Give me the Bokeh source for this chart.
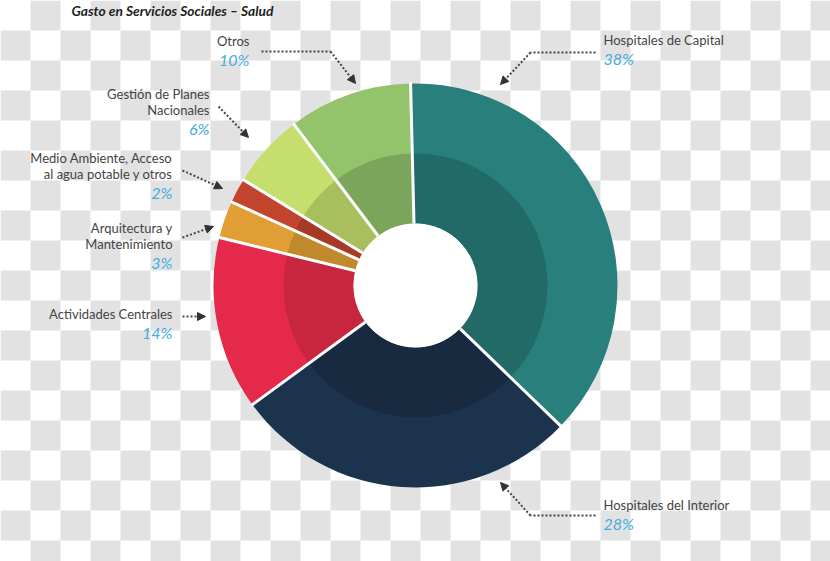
import numpy as np
from bokeh.plotting import figure
from bokeh.models import Range1d, ColumnDataSource, Arrow, NormalHead, Label
from bokeh.core.properties import value
from bokeh.embed import file_html
from bokeh.resources import INLINE

# ---------------- data ----------------
categories = ["Hospitales de Capital", "Hospitales del Interior", "Actividades Centrales",
              "Arquitectura y Mantenimiento", "Medio Ambiente, Acceso al agua potable y otros",
              "Gestión de Planes Nacionales", "Otros"]
shares = [38, 28, 14, 3, 2, 6, 10]
pct_labels = ["38%", "28%", "14%", "3%", "2%", "6%", "10%"]
label_lines = [["Hospitales de Capital"], ["Hospitales del Interior"], ["Actividades Centrales"],
               ["Arquitectura y", "Mantenimiento"], ["Medio Ambiente, Acceso", "al agua potable y otros"],
               ["Gestión de Planes", "Nacionales"], ["Otros"]]
title_text = "Gasto en Servicios Sociales – Salud"

# ---------------- styling / layout ----------------
outer_colors = ["#287f7c", "#1c334e", "#e5294a", "#e09e35", "#c2432e", "#c5de6d", "#93c36b"]
inner_colors = ["#226a68", "#172a40", "#c8263e", "#c0892c", "#a63a27", "#a9bf5d", "#7ba55a"]

W, H = 830, 561
CX, CY = 415, 285           # pixel centre of donut
R_OUT, R_MID, R_HOLE = 202, 132, 62
START_OFFSET_DEG = -1.4     # first slice begins slightly before 12 o'clock

# label layout in pixel coords (anchor x, first line y, align), and leader polyline (last point = arrow tip)
label_layout = [
    (603, 39, "left", [(595, 52), (530, 52), (500, 84)]),
    (603, 504, "left", [(595, 515), (530, 515), (500, 482)]),
    (172, 313, "right", [(182, 316), (205, 316)]),
    (172, 227, "right", [(182, 237), (213, 226)]),
    (172, 157, "right", [(182, 170), (222, 188)]),
    (209, 93, "right", [(218, 106), (248, 137)]),
    (249, 40, "right", [(261, 51), (330, 51), (355, 83)]),
]

def Y(py):
    return H - py

p = figure(width=W, height=H, output_backend="svg", toolbar_location=None,
           x_range=Range1d(0, W), y_range=Range1d(0, H), min_border=0)
p.axis.visible = False
p.grid.visible = False
p.outline_line_color = None
p.background_fill_color = "white"
p.border_fill_color = "white"

# checkerboard (transparency pattern) background
SQ = 30
xs, ys = [], []
for i in range(int(np.ceil(H / SQ))):
    for j in range(int(np.ceil(W / SQ))):
        if (i + j) % 2 == 1:
            xs.append(j * SQ + SQ / 2)
            ys.append(Y(i * SQ + SQ / 2))
p.rect(xs, ys, width=SQ, height=SQ, fill_color="#e2e2e2", line_color=None)

# donut
vals = np.array(shares, dtype=float)
total = vals.sum()
cum = np.concatenate([[0], np.cumsum(vals)])
off = np.deg2rad(START_OFFSET_DEG)
start = np.pi / 2 - off - 2 * np.pi * cum[:-1] / total
end = np.pi / 2 - off - 2 * np.pi * cum[1:] / total
src = ColumnDataSource(dict(start=start, end=end, outer=outer_colors, inner=inner_colors))
p.annular_wedge(x=CX, y=Y(CY), inner_radius=R_HOLE, outer_radius=R_OUT, start_angle="start",
                end_angle="end", direction="clock", fill_color="outer", line_color=None, source=src)
p.annular_wedge(x=CX, y=Y(CY), inner_radius=R_HOLE, outer_radius=R_MID, start_angle="start",
                end_angle="end", direction="clock", fill_color="inner", line_color=None, source=src)

# white separators
bang = start
p.segment(x0=CX + R_HOLE * np.cos(bang), y0=Y(CY) + R_HOLE * np.sin(bang),
          x1=CX + (R_OUT + 1) * np.cos(bang), y1=Y(CY) + (R_OUT + 1) * np.sin(bang),
          line_color="white", line_width=3)
p.circle(x=[CX], y=[Y(CY)], radius=R_HOLE, fill_color="white", line_color=None)

# labels
FONT = value("Lato")
tx, ty, tt, ta = [], [], [], []
px_, py_, pt_, pa_ = [], [], [], []
for lines, pct, (ax, ay, al, path) in zip(label_lines, pct_labels, label_layout):
    for k, ln in enumerate(lines):
        tx.append(ax); ty.append(Y(ay + 16 * k)); tt.append(ln); ta.append(al)
    px_.append(ax); py_.append(Y(ay + 16 * (len(lines) - 1) + 19)); pt_.append(pct); pa_.append(al)
    # leader
    pts = path
    if len(pts) > 2:
        p.line([q[0] for q in pts[:-1]], [Y(q[1]) for q in pts[:-1]], line_color="#444444",
               line_width=2, line_dash="2 2")
    (x0, y0), (x1, y1) = pts[-2], pts[-1]
    p.add_layout(Arrow(end=NormalHead(size=8, fill_color="#333333", line_color="#333333"),
                       x_start=x0, y_start=Y(y0), x_end=x1, y_end=Y(y1),
                       line_color="#444444", line_width=2, line_dash="2 2"))

p.text(x=tx, y=ty, text=tt, text_align=ta, text_baseline="middle", text_font=FONT,
       text_font_size="13px", text_color="#444444")
p.text(x=px_, y=py_, text=pt_, text_align=pa_, text_baseline="middle", text_font=FONT,
       text_font_size="16px", text_font_style="italic", text_color="#45ade0")

p.add_layout(Label(x=71, y=Y(10), text=title_text, text_font="Lato", text_font_size="13.8px",
                   text_font_style="bold italic", text_color="#1e1e1e", text_baseline="middle"))

open("out.html", "w").write(file_html(p, INLINE))
